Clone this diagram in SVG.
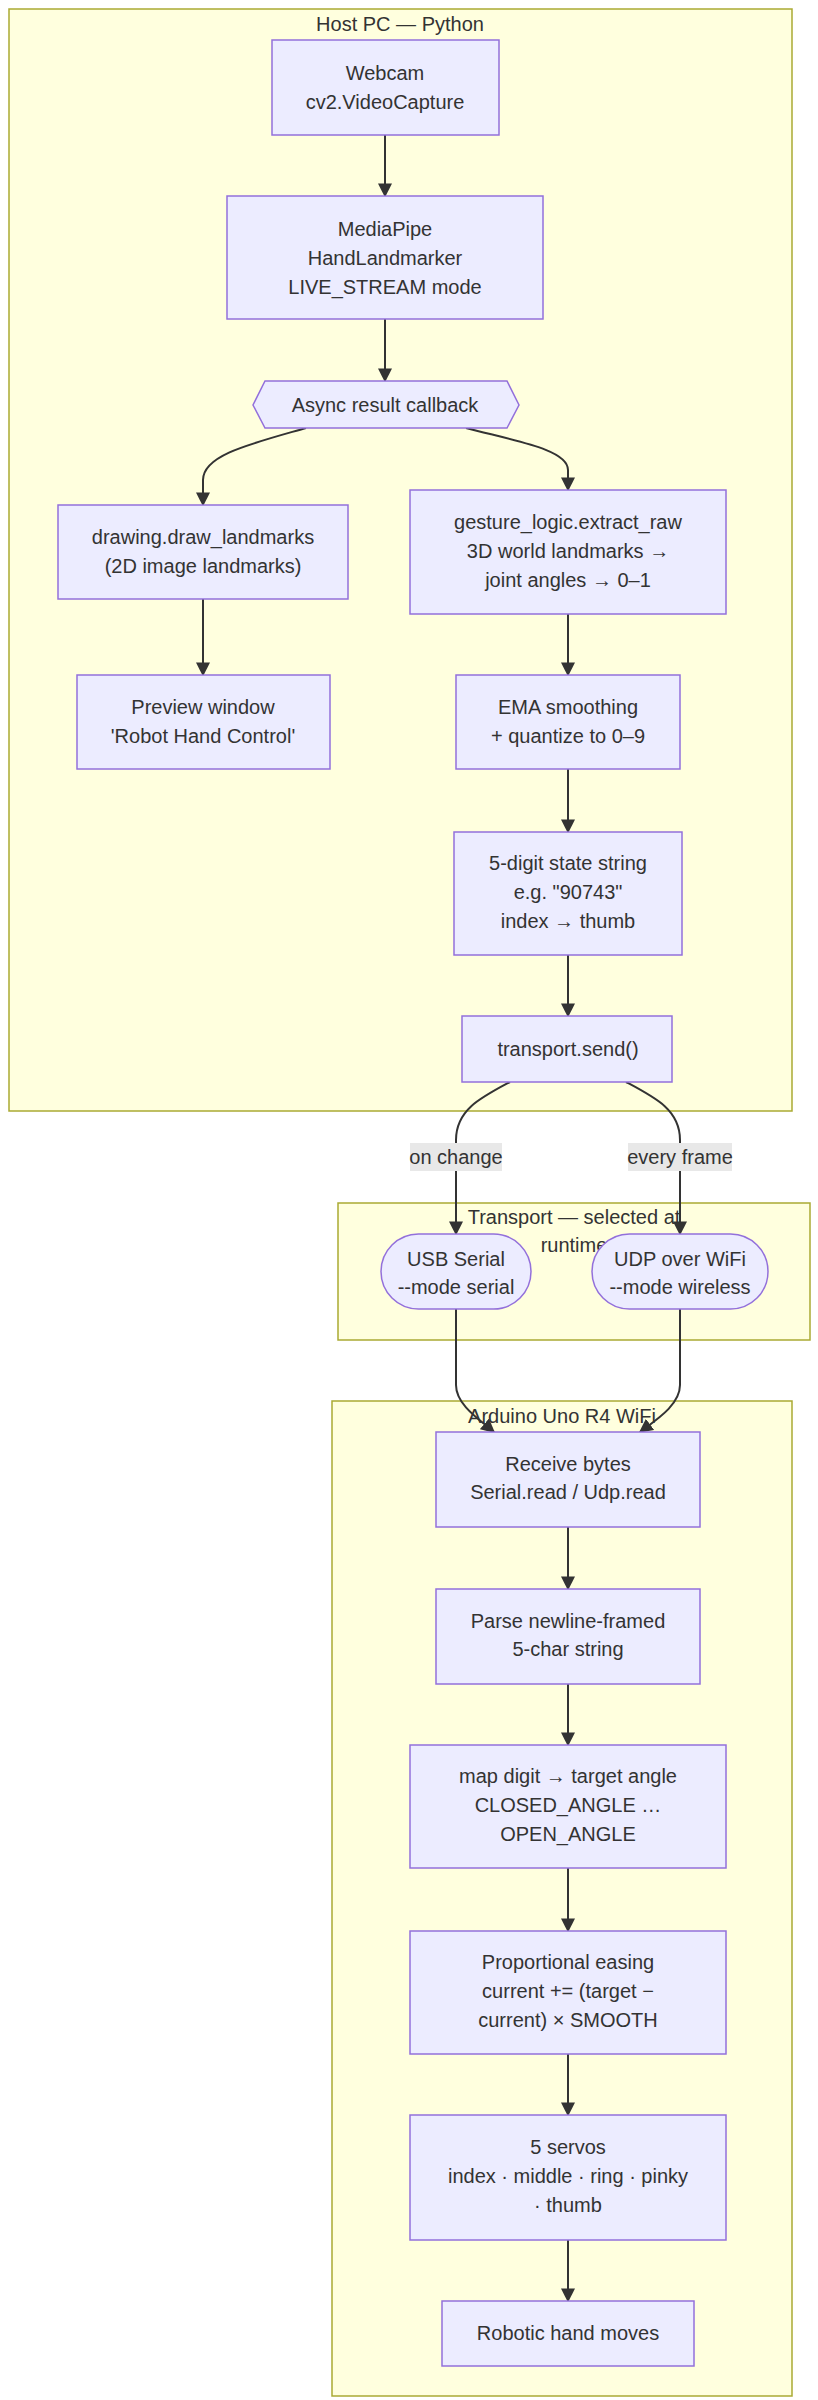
<svg xmlns="http://www.w3.org/2000/svg" width="818" height="2400" viewBox="0 0 818 2400">
<style>
.cl{fill:#ffffde;stroke:#aaaa33;stroke-width:1.5}
.n{fill:#ececff;stroke:#9370db;stroke-width:1.5}
text{font-family:"Liberation Sans",Arial,sans-serif;font-size:20px;fill:#333;text-anchor:middle}
.e{fill:none;stroke:#333;stroke-width:2;marker-end:url(#a)}
.lb{fill:#e8e8e8}
</style>
<defs><marker id="a" viewBox="0 0 10 10" refX="9" refY="5" markerWidth="7" markerHeight="7" orient="auto"><path d="M0,0L10,5L0,10z" fill="#333"/></marker></defs>
<g id="clusters">
<rect class="cl" x="9" y="9" width="783" height="1102"/>
<text x="400" y="31">Host PC — Python</text>
<rect class="cl" x="338" y="1203" width="472" height="137"/>
<text x="574" y="1224">Transport — selected at</text>
<text x="574" y="1252">runtime</text>
<rect class="cl" x="332" y="1401" width="460" height="995"/>
<text x="562" y="1423">Arduino Uno R4 WiFi</text>
</g>
<g id="edges">
<path class="e" d="M385,135V196"/>
<path class="e" d="M385,319V381"/>
<path class="e" d="M306,428C250,444 203,455 203,480V505"/>
<path class="e" d="M466,428C520,442 568,450 568,470V490"/>
<path class="e" d="M203,599V675"/>
<path class="e" d="M568,614V675"/>
<path class="e" d="M568,769V832"/>
<path class="e" d="M568,955V1016"/>
<path class="e" d="M510,1082C480,1098 456,1110 456,1140V1234"/>
<path class="e" d="M626,1082C656,1098 680,1110 680,1140V1234"/>
<path class="e" d="M456,1309V1385C456,1405 480,1420 494,1432"/>
<path class="e" d="M680,1309V1385C680,1405 656,1420 640,1432"/>
<path class="e" d="M568,1527V1589"/>
<path class="e" d="M568,1684V1745"/>
<path class="e" d="M568,1868V1931"/>
<path class="e" d="M568,2054V2115"/>
<path class="e" d="M568,2240V2301"/>
<rect class="lb" x="410" y="1143" width="92" height="28"/>
<text x="456" y="1164">on change</text>
<rect class="lb" x="628" y="1143" width="104" height="28"/>
<text x="680" y="1164">every frame</text>
</g>
<g id="webcam"><rect class="n" x="272" y="40" width="227" height="95"/><text x="385" y="80">Webcam</text><text x="385" y="109">cv2.VideoCapture</text></g>
<g id="mediapipe"><rect class="n" x="227" y="196" width="316" height="123"/><text x="385" y="236">MediaPipe</text><text x="385" y="265">HandLandmarker</text><text x="385" y="294">LIVE_STREAM mode</text></g>
<g id="async"><polygon class="n" points="265,381 507,381 519,405 507,428 265,428 253,405"/><text x="385" y="412">Async result callback</text></g>
<g id="drawing"><rect class="n" x="58" y="505" width="290" height="94"/><text x="203" y="544">drawing.draw_landmarks</text><text x="203" y="573">(2D image landmarks)</text></g>
<g id="preview"><rect class="n" x="77" y="675" width="253" height="94"/><text x="203" y="714">Preview window</text><text x="203" y="743">'Robot Hand Control'</text></g>
<g id="gesture"><rect class="n" x="410" y="490" width="316" height="124"/><text x="568" y="529">gesture_logic.extract_raw</text><text x="568" y="558">3D world landmarks →</text><text x="568" y="587">joint angles → 0–1</text></g>
<g id="ema"><rect class="n" x="456" y="675" width="224" height="94"/><text x="568" y="714">EMA smoothing</text><text x="568" y="743">+ quantize to 0–9</text></g>
<g id="state"><rect class="n" x="454" y="832" width="228" height="123"/><text x="568" y="870">5-digit state string</text><text x="568" y="899">e.g. "90743"</text><text x="568" y="928">index → thumb</text></g>
<g id="send"><rect class="n" x="462" y="1016" width="210" height="66"/><text x="568" y="1056">transport.send()</text></g>
<g id="usb"><rect class="n" x="381" y="1234" width="150" height="75" rx="37.5"/><text x="456" y="1266">USB Serial</text><text x="456" y="1294">--mode serial</text></g>
<g id="udp"><rect class="n" x="592" y="1234" width="176" height="75" rx="37.5"/><text x="680" y="1266">UDP over WiFi</text><text x="680" y="1294">--mode wireless</text></g>
<g id="receive"><rect class="n" x="436" y="1432" width="264" height="95"/><text x="568" y="1471">Receive bytes</text><text x="568" y="1499">Serial.read / Udp.read</text></g>
<g id="parse"><rect class="n" x="436" y="1589" width="264" height="95"/><text x="568" y="1628">Parse newline-framed</text><text x="568" y="1656">5-char string</text></g>
<g id="map"><rect class="n" x="410" y="1745" width="316" height="123"/><text x="568" y="1783">map digit → target angle</text><text x="568" y="1812">CLOSED_ANGLE …</text><text x="568" y="1841">OPEN_ANGLE</text></g>
<g id="easing"><rect class="n" x="410" y="1931" width="316" height="123"/><text x="568" y="1969">Proportional easing</text><text x="568" y="1998">current += (target −</text><text x="568" y="2027">current) × SMOOTH</text></g>
<g id="servos"><rect class="n" x="410" y="2115" width="316" height="125"/><text x="568" y="2154">5 servos</text><text x="568" y="2183">index · middle · ring · pinky</text><text x="568" y="2212">· thumb</text></g>
<g id="moves"><rect class="n" x="442" y="2301" width="252" height="65"/><text x="568" y="2340">Robotic hand moves</text></g>
</svg>
